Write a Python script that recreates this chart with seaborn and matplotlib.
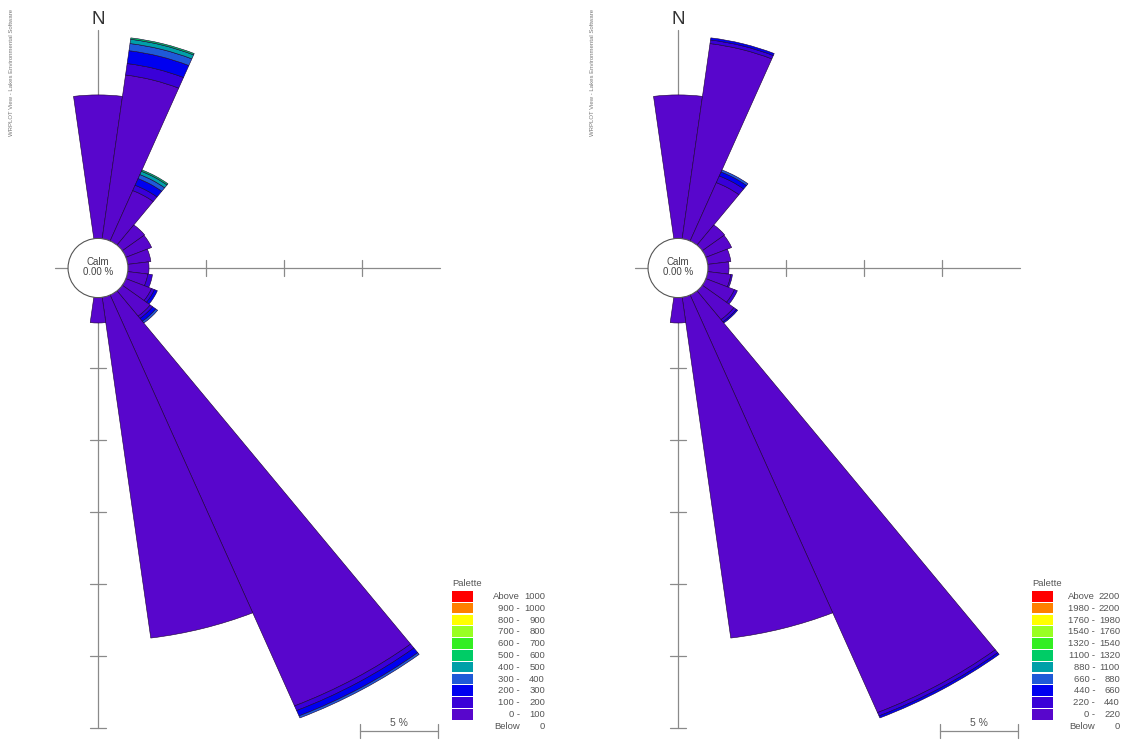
import numpy as np
import matplotlib
matplotlib.use("Agg")
import matplotlib.pyplot as plt
from matplotlib.patches import Wedge, Ellipse, Rectangle
import seaborn as sns

sns.set_theme(style="white")
plt.rcParams['font.family'] = ['Liberation Sans', 'DejaVu Sans']

# ---------------- data ----------------
directions = list(range(0, 360, 15))          # sector centres (deg from north)
sector_width = 15.0
calm_pct = [0.00, 0.00]

# Left rose, speed classes (frequency %, per direction)
left_0_100    = [10.1, 11.6, 3.9, 1.85, 1.8, 1.5, 1.35, 1.3, 1.8, 2.3, 31.0, 24.0, 1.9,
                 0, 0, 0, 0, 0, 0, 0, 0, 0, 0, 0]
left_100_200  = [0, 0.8, 0.4, 0, 0, 0, 0, 0.3, 0.2, 0.2, 0.35, 0, 0,
                 0, 0, 0, 0, 0, 0, 0, 0, 0, 0, 0]
left_200_300  = [0, 0.9, 0.5, 0, 0, 0, 0, 0, 0.2, 0.25, 0.4, 0, 0,
                 0, 0, 0, 0, 0, 0, 0, 0, 0, 0, 0]
left_300_400  = [0, 0.5, 0.3, 0, 0, 0, 0, 0, 0, 0.15, 0.15, 0, 0,
                 0, 0, 0, 0, 0, 0, 0, 0, 0, 0, 0]
left_400_500  = [0, 0.3, 0.25, 0, 0, 0, 0, 0, 0, 0, 0, 0, 0,
                 0, 0, 0, 0, 0, 0, 0, 0, 0, 0, 0]
left_500_600  = [0, 0.1, 0.1, 0, 0, 0, 0, 0, 0, 0, 0, 0, 0,
                 0, 0, 0, 0, 0, 0, 0, 0, 0, 0, 0]

# Right rose, speed classes
right_0_220   = [10.1, 13.8, 4.5, 1.85, 1.8, 1.5, 1.35, 1.5, 2.0, 2.6, 31.5, 24.0, 1.9,
                 0, 0, 0, 0, 0, 0, 0, 0, 0, 0, 0]
right_220_440 = [0, 0.25, 0.5, 0, 0, 0, 0, 0.1, 0.2, 0.2, 0.25, 0, 0,
                 0, 0, 0, 0, 0, 0, 0, 0, 0, 0, 0]
right_440_660 = [0, 0.15, 0.3, 0, 0, 0, 0, 0, 0, 0.1, 0.15, 0, 0,
                 0, 0, 0, 0, 0, 0, 0, 0, 0, 0, 0]
right_660_880 = [0, 0, 0.15, 0, 0, 0, 0, 0, 0, 0, 0, 0, 0,
                 0, 0, 0, 0, 0, 0, 0, 0, 0, 0, 0]

left_labels = ["Above 1000", "900 - 1000", "800 - 900", "700 - 800", "600 - 700",
               "500 - 600", "400 - 500", "300 - 400", "200 - 300", "100 - 200",
               "0 - 100", "Below 0"]
right_labels = ["Above 2200", "1980 - 2200", "1760 - 1980", "1540 - 1760", "1320 - 1540",
                "1100 - 1320", "880 - 1100", "660 - 880", "440 - 660", "220 - 440",
                "0 - 220", "Below 0"]

# palette from lowest class upwards
class_colors = ["#5806cc", "#3a00d8", "#0000f0", "#1f5ad8", "#00a0a8", "#00cc66",
                "#33ee22", "#99ff22", "#ffff00", "#ff8000", "#ff0000"]

# ---------------- geometry ----------------
W, H = 1123, 747
fig = plt.figure(figsize=(W / 100, H / 100), dpi=100)
CX, CY = 98.0, 268.0          # centre of rose in panel pixels
SX, SY = 15.6, 14.4           # pixels per % in x / y
PW = 543.0                    # panel width in px
CALM = 1.92                   # radius of calm circle, in %

def X(px):
    return (px - CX) / SX

def Y(py):
    return (CY - py) / SY

def draw_panel(ax, classes, labels, calm_value, col2):
    ax.set_xlim(X(0), X(PW))
    ax.set_ylim(Y(H), Y(0))
    ax.axis('off')
    grey = "#8a8a8a"
    txt = "#555555"
    # axes lines
    ax.plot([X(55), CALM + 20], [0, 0], color=grey, lw=0.9, zorder=1)
    ax.plot([0, 0], [Y(30), -(CALM + 30)], color=grey, lw=0.9, zorder=1)
    for k in range(1, 4):
        ax.plot([CALM + 5 * k] * 2, [-0.55, 0.55], color=grey, lw=0.9, zorder=1)
    for k in range(1, 7):
        ax.plot([-0.5, 0.5], [-(CALM + 5 * k)] * 2, color=grey, lw=0.9, zorder=1)
    # bars
    for i, d in enumerate(directions):
        bottom = CALM
        for c, vals in enumerate(classes):
            v = vals[i]
            if v <= 0:
                continue
            t1 = 90 - d - sector_width / 2
            t2 = 90 - d + sector_width / 2
            ax.add_patch(Wedge((0, 0), bottom + v, t1, t2, width=v,
                               facecolor=class_colors[c], edgecolor="#1a0033",
                               lw=0.4, zorder=3))
            bottom += v
    # calm circle
    ax.add_patch(Ellipse((0, 0), 2 * CALM, 2 * CALM * 1.07, facecolor="white",
                         edgecolor="#555555", lw=0.8, zorder=5))
    ax.text(0, 0.05, f"Calm\n{calm_value:.2f} %", ha="center", va="center",
            fontsize=7, color="#444444", zorder=6, linespacing=1.05)
    # north label
    ax.text(0, Y(19), "N", ha="center", va="center", fontsize=13.5, color="#333333")
    # credit text
    ax.text(X(12), Y(72), "WRPLOT View - Lakes Environmental Software",
            rotation=90, ha="center", va="center", fontsize=4.3, color="#777777")
    # scale bar: 5 %
    x0 = X(360)
    ax.plot([x0, x0 + 5], [Y(731)] * 2, color=grey, lw=0.9)
    for xe in (x0, x0 + 5):
        ax.plot([xe, xe], [Y(724), Y(738)], color=grey, lw=0.9)
    ax.text(x0 + 2.5, Y(728), "5 %", ha="center", va="bottom", fontsize=7.5,
            color=txt)
    # palette legend
    ax.text(X(452), Y(583), "Palette", ha="left", va="center", fontsize=6.8,
            color=txt)
    leg_colors = class_colors[::-1] + ["white"]
    col1 = col2 - 25
    for j, (lab, col) in enumerate(zip(labels, leg_colors)):
        top = 591 + 11.8 * j
        ax.add_patch(Rectangle((X(452), Y(top + 10.5)), X(473) - X(452), 10.5 / SY,
                               facecolor=col, edgecolor="none", zorder=3))
        if lab.startswith("Above") or lab.startswith("Below"):
            a, b = lab.split(" ")
        else:
            lo, hi = lab.split(" - ")
            a, b = lo + " -", hi
        yy = Y(top + 5.5)
        ax.text(X(col1), yy, a, ha="right", va="center", fontsize=6.8, color=txt)
        ax.text(X(col2), yy, b, ha="right", va="center", fontsize=6.8, color=txt)


axL = fig.add_axes([0, 0, PW / W, 1])
draw_panel(axL, [left_0_100, left_100_200, left_200_300, left_300_400,
                 left_400_500, left_500_600], left_labels, calm_pct[0], 545)
axR = fig.add_axes([580 / W, 0, PW / W, 1])
draw_panel(axR, [right_0_220, right_220_440, right_440_660, right_660_880],
           right_labels, calm_pct[1], 540)

fig.savefig("out.png", dpi=100)
